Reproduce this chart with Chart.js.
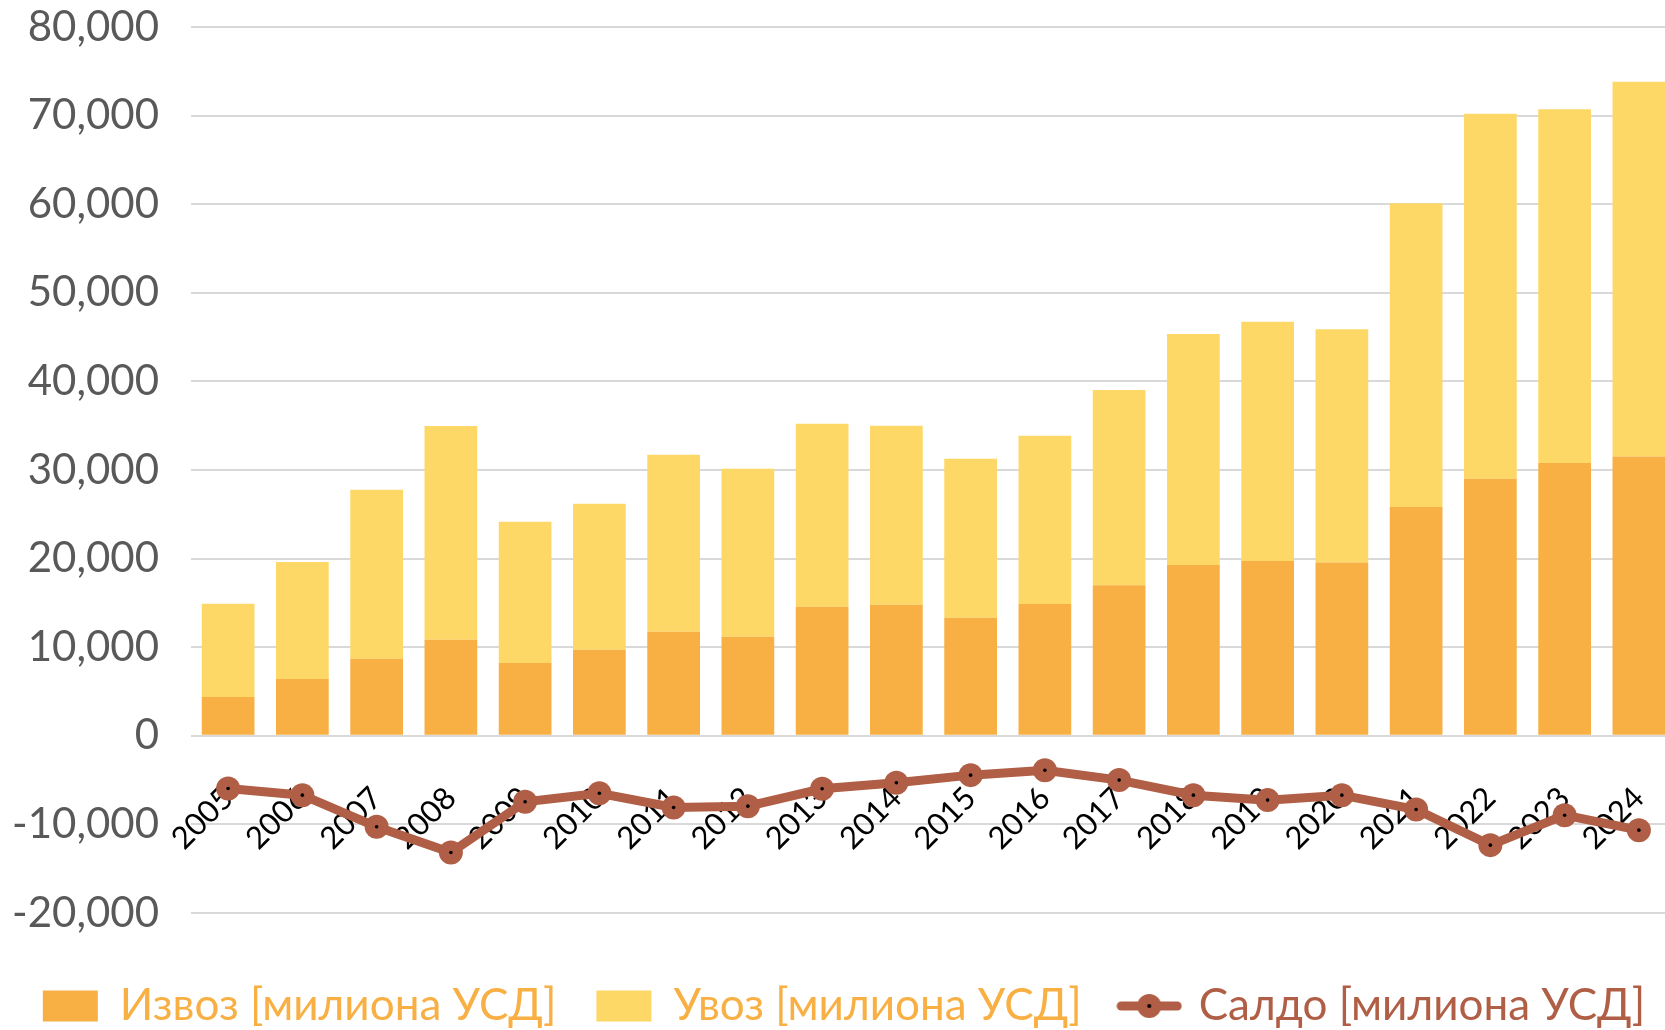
<!DOCTYPE html>
<html>
<head>
<meta charset="utf-8">
<script src="https://cdn.jsdelivr.net/npm/chart.js@4.4.1/dist/chart.umd.min.js"></script>
<style>
  html, body { margin: 0; padding: 0; background: #fff; overflow: hidden; }
  #trade-chart { display: block; width: 1688px; height: 1038px; }
</style>
</head>
<body>
<canvas id="trade-chart" width="1688" height="1038"></canvas>
<script>
const years = ['2005', '2006', '2007', '2008', '2009', '2010', '2011', '2012', '2013', '2014',
               '2015', '2016', '2017', '2018', '2019', '2020', '2021', '2022', '2023', '2024'];

// милиона УСД
const exports = [4370, 6400, 8700, 10850, 8230, 9700, 11740, 11170, 14560, 14780,
                 13320, 14880, 16980, 19270, 19740, 19570, 25830, 29020, 30790, 31530];
const imports = [10520, 13220, 19060, 24120, 15920, 16490, 19980, 18970, 20660, 20210,
                 17950, 18990, 22060, 26070, 26980, 26330, 34270, 41180, 39930, 42300];
const balance = [-5950, -6700, -10270, -13170, -7450, -6480, -8090, -7940, -5980, -5300,
                 -4440, -3880, -5000, -6700, -7260, -6700, -8320, -12340, -8960, -10650];

const yTicks = [-20000, -10000, 0, 10000, 20000, 30000, 40000, 50000, 60000, 70000, 80000];

const colorExport = '#F8AF43';
const colorImport = '#FDD867';
const colorBalance = '#B05E45';
const fontFamily = "Lato, 'Open Sans', sans-serif";

// legend marker for the line series: line with a dot
function lineMarker() {
    const c = document.createElement('canvas');
    c.width = 66;
    c.height = 26;
    const ctx = c.getContext('2d');
    ctx.strokeStyle = colorBalance;
    ctx.lineWidth = 9;
    ctx.lineCap = 'round';
    ctx.beginPath();
    ctx.moveTo(5, 13);
    ctx.lineTo(61, 13);
    ctx.stroke();
    ctx.fillStyle = colorBalance;
    ctx.beginPath();
    ctx.arc(33, 13, 12, 0, Math.PI * 2);
    ctx.fill();
    ctx.fillStyle = '#000';
    ctx.beginPath();
    ctx.arc(33, 13, 2, 0, Math.PI * 2);
    ctx.fill();
    return c;
}
const marker = lineMarker();

new Chart(document.getElementById('trade-chart'), {
    data: {
        labels: years,
        datasets: [
            {
                type: 'bar',
                label: 'Извоз [милиона УСД]',
                data: exports,
                backgroundColor: colorExport,
                stack: 'trade',
                order: 2,
                categoryPercentage: 1,
                barPercentage: 0.71,
            },
            {
                type: 'bar',
                label: 'Увоз [милиона УСД]',
                data: imports,
                backgroundColor: colorImport,
                stack: 'trade',
                order: 2,
                categoryPercentage: 1,
                barPercentage: 0.71,
            },
            {
                type: 'line',
                label: 'Салдо [милиона УСД]',
                data: balance,
                borderColor: colorBalance,
                backgroundColor: colorBalance,
                borderWidth: 9,
                pointRadius: 12,
                pointBorderWidth: 0,
                pointBackgroundColor: colorBalance,
                stack: 'saldo',
                order: 1,
                tension: 0,
            },
            {
                type: 'line',
                label: 'dots',
                data: balance,
                showLine: false,
                pointRadius: 1.8,
                pointBorderWidth: 0,
                pointBackgroundColor: '#000',
                stack: 'dots',
                order: 0,
            },
        ],
    },
    options: {
        responsive: false,
        animation: false,
        layout: { padding: { top: 27, left: 0, right: 0, bottom: 0 } },
        plugins: {
            tooltip: { enabled: false },
            legend: {
                position: 'bottom',
                title: {
                    display: true,
                    text: ' ',
                    font: { size: 10 },
                    padding: { top: 0, bottom: 19 },
                },
                labels: {
                    usePointStyle: true,
                    pointStyleWidth: 55,
                    boxHeight: 31,
                    padding: 40,
                    font: { family: fontFamily, size: 44 },
                    generateLabels: (chart) => chart.data.datasets.slice(0, 3).map((ds, i) => ({
                        text: ds.label,
                        fillStyle: ds.backgroundColor,
                        strokeStyle: ds.backgroundColor,
                        lineWidth: 0,
                        pointStyle: i === 2 ? marker : 'rect',
                        fontColor: i === 2 ? colorBalance : colorExport,
                        hidden: false,
                        datasetIndex: i,
                    })),
                },
            },
        },
        scales: {
            x: {
                stacked: true,
                offset: true,
                position: { y: 0 },
                z: 1,
                grid: { display: false, drawTicks: false },
                border: { display: false },
                ticks: {
                    autoSkip: false,
                    minRotation: 45,
                    maxRotation: 45,
                    padding: 44,
                    color: '#000',
                    font: { family: fontFamily, size: 31 },
                },
                afterFit: (scale) => {
                    scale.paddingLeft = 0;
                    scale.paddingRight = 0;
                },
            },
            y: {
                stacked: true,
                min: -20000,
                max: 80000,
                afterBuildTicks: (scale) => {
                    scale.ticks = yTicks.map((v) => ({ value: v }));
                },
                grid: { color: '#D9D9D9', lineWidth: 2, drawTicks: false },
                border: { display: false },
                ticks: {
                    padding: 32,
                    color: '#595959',
                    font: { family: fontFamily, size: 42 },
                    callback: (v) => v.toLocaleString('en-US'),
                },
                afterFit: (scale) => {
                    scale.width = 191;
                    scale.paddingTop = 0;
                    scale.paddingBottom = 0;
                },
            },
        },
    },
});
</script>
</body>
</html>
